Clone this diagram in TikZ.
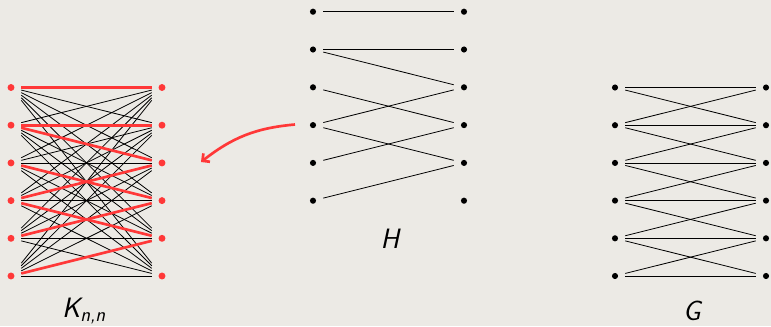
\documentclass[tikz,border=0pt]{standalone}
\usepackage{tikz}
\usetikzlibrary{arrows.meta,calc,positioning}
\definecolor{sfondo}{RGB}{236,234,229}
\definecolor{rosso}{RGB}{255,56,56}

\tikzset{
  vtx/.style={rectangle, inner sep=0pt, minimum width=15pt, minimum height=24pt,
    path picture={\fill[#1] (path picture bounding box.center) circle (2.3pt);}},
  vtx/.default=black,
  vtxrosso/.style={vtx, path picture={\fill[rosso] (path picture bounding box.center) circle (2.6pt);}},
  lato/.style={line width=0.6pt},
  latorosso/.style={line width=2pt, rosso},
  etichetta/.style={font=\fontsize{21}{25}\selectfont\sffamily\itshape}
}

\begin{document}
\begin{tikzpicture}[x=0.75pt, y=-0.75pt]
            % Sfondo e dimensioni
            \fill[sfondo] (0,0) rectangle (771,326);
            \useasboundingbox (0,0) rectangle (771,326);

            % Vertici di K_{n,n}, H e G
            \foreach \i in {1,...,6} {
              \node[vtxrosso] (kl\i) at (11,{87.5+37.7*(\i-1)}) {};
              \node[vtxrosso] (kr\i) at (162,{87.5+37.7*(\i-1)}) {};
              \node[vtx] (hl\i) at (313,{11.7+37.8*(\i-1)}) {};
              \node[vtx] (hr\i) at (464,{11.7+37.8*(\i-1)}) {};
              \node[vtx] (gl\i) at (615,{87.5+37.7*(\i-1)}) {};
              \node[vtx] (gr\i) at (766,{87.5+37.7*(\i-1)}) {};
            }

            % Grafo bipartito completo
            \foreach \i in {1,...,6}
              \foreach \j in {1,...,6}
                \draw[lato] (kl\i) -- (kr\j);

            % Copia di H dentro K_{n,n}
            \foreach \i/\j in {1/1,2/2,2/3,3/4,4/3,4/5,5/4,6/5}
              \draw[latorosso] (kl\i) -- (kr\j);

            % Grafo H
            \foreach \i/\j in {1/1,2/2,2/3,3/4,4/3,4/5,5/4,6/5}
              \draw[lato] (hl\i) -- (hr\j);

            % Grafo G
            \foreach \i in {1,...,6}
              \draw[lato] (gl\i) -- (gr\i);
            \foreach \i [evaluate=\i as \j using int(\i+1)] in {1,...,5} {
              \draw[lato] (gl\i) -- (gr\j);
              \draw[lato] (gl\j) -- (gr\i);
            }

            % Freccia da H verso K_{n,n}
            \coordinate (inizio) at (295,124.5);
            \coordinate (fine) at (201,162);
            \draw[->, >={Straight Barb[length=4pt,width=8pt]}, rosso, line width=2pt]
              (inizio) to[out=185, in=38] (fine);

            % Etichette
            \node[etichetta] (lk) at (84,311) {K\textsubscript{n,n}};
            \node[etichetta] (lh) at (390,239) {H};
            \node[etichetta] (lg) at (692,311) {G};
        \end{tikzpicture}
\end{document}
